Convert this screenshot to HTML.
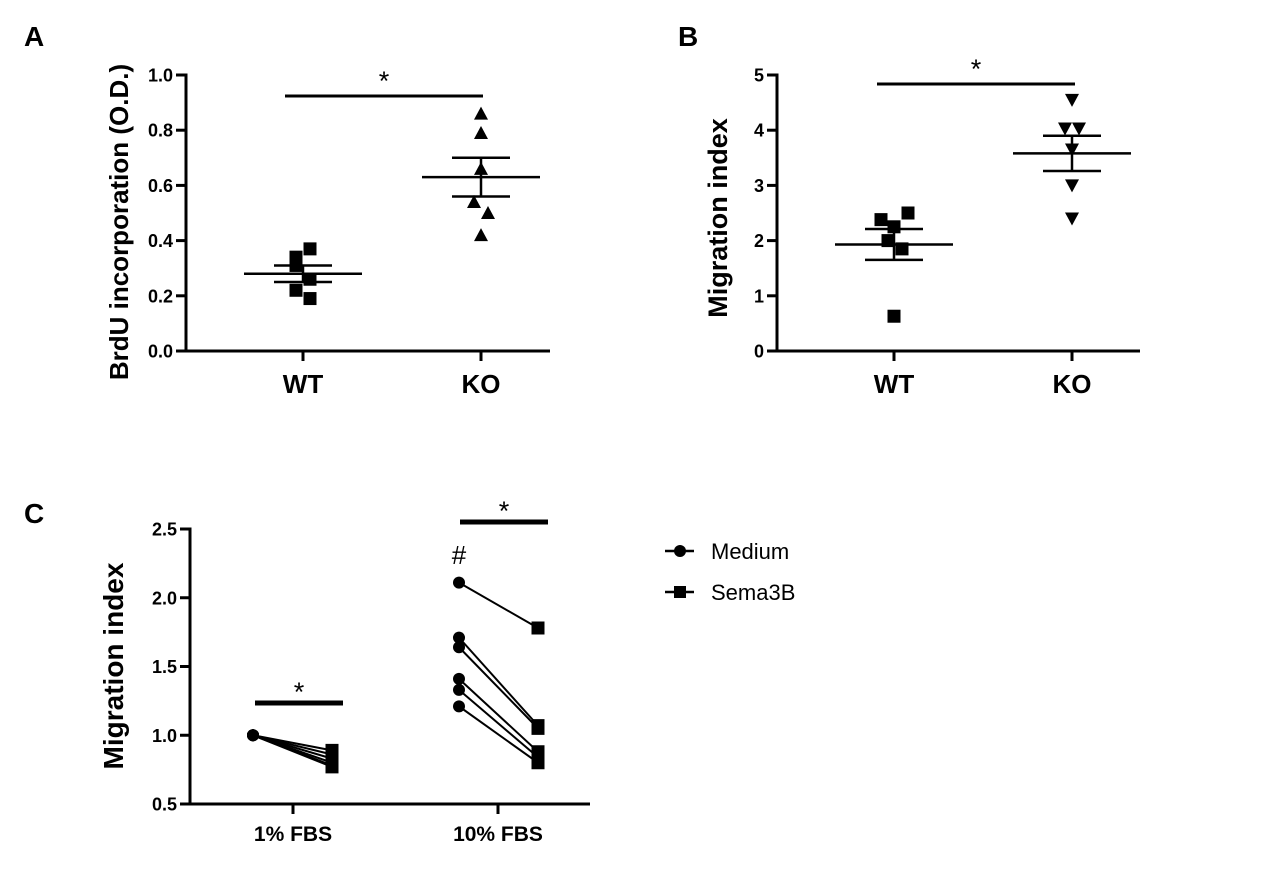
<!DOCTYPE html>
<html><head><meta charset="utf-8"><style>
html,body{margin:0;padding:0;background:#fff;}
svg{display:block;font-family:"Liberation Sans",Arial,sans-serif;}
</style></head><body>
<svg id="fig" width="1280" height="874" viewBox="0 0 1280 874" xmlns="http://www.w3.org/2000/svg"></svg>
<script>
// ---- Panel A data ----
const aCategories = ["WT","KO"];
const aWT = [0.37,0.34,0.31,0.26,0.22,0.19];
const aKO = [0.86,0.79,0.66,0.54,0.50,0.42];
const aMean = [0.28,0.63];
const aSem = [0.03,0.07];
const aTicks = ["0.0","0.2","0.4","0.6","0.8","1.0"];
// ---- Panel B data ----
const bCategories = ["WT","KO"];
const bWT = [2.50,2.38,2.25,2.00,1.85,0.63];
const bKO = [4.55,4.03,4.03,3.65,3.00,2.40];
const bMean = [1.93,3.58];
const bSem = [0.28,0.32];
const bTicks = ["0","1","2","3","4","5"];
// ---- Panel C data ----
const cCategories = ["1% FBS","10% FBS"];
const cMedium1 = [1.0,1.0,1.0,1.0,1.0,1.0];
const cSema1 = [0.89,0.86,0.83,0.80,0.78,0.77];
const cMedium10 = [2.11,1.71,1.64,1.41,1.33,1.21];
const cSema10 = [1.78,1.07,1.05,0.88,0.84,0.80];
const cTicks = ["0.5","1.0","1.5","2.0","2.5"];

const NS="http://www.w3.org/2000/svg";
const svg=document.getElementById('fig');
function mk(tag,attrs,parent){const e=document.createElementNS(NS,tag);for(const k in attrs)e.setAttribute(k,attrs[k]);(parent||svg).appendChild(e);return e;}
function txt(s,attrs,parent){const e=mk('text',attrs,parent);e.textContent=s;return e;}

[["A",24,46],["B",678,46],["C",24,523]].forEach(p=>{
  const t=txt(p[0],{x:p[1],y:p[2],'font-size':28,'font-weight':'bold'});
  
  
});

function scatterPanel(o){
  const g=mk('g',{});
  
  
  const y=v=>o.y0+(v-o.min)/(o.max-o.min)*(o.y1-o.y0);
  const ya=mk('line',{x1:o.ax,y1:o.y1-1.5,x2:o.ax,y2:o.y0+1.5,stroke:'#000','stroke-width':3},g);
  
  const xa=mk('line',{x1:o.ax-1.5,y1:o.y0,x2:o.xEnd,y2:o.y0,stroke:'#000','stroke-width':3},g);
  
  o.ticks.forEach(t=>{
    const v=parseFloat(t),yy=y(v);
    mk('line',{x1:o.ax-10,y1:yy,x2:o.ax,y2:yy,stroke:'#000','stroke-width':3},g);
    const tl=txt(t,{x:o.ax-13,y:yy+6.5,'font-size':18,'font-weight':'bold','text-anchor':'end'},g);
    
  });
  o.cats.forEach((c,i)=>{
    const cx=o.cx[i];
    mk('line',{x1:cx,y1:o.y0,x2:cx,y2:o.y0+10,stroke:'#000','stroke-width':3},g);
    const cl=txt(c,{x:cx,y:o.catY,'font-size':o.catSize,'font-weight':'bold','text-anchor':'middle'},g);
    
  });
  const at=txt(o.title,{x:0,y:0,'font-size':o.titleSize,'font-weight':'bold','text-anchor':'middle',transform:`translate(${o.titleX},${o.titleY}) rotate(-90)`},g);
  
  return {g,y};
}

function square(g,x,yy,s){const r=mk('rect',{x:x-s/2,y:yy-s/2,width:s,height:s,fill:'#000'},g);}
function tri(g,x,yy,down){const s=14;const p=down?`${x-s/2},${yy-s/2+1} ${x+s/2},${yy-s/2+1} ${x},${yy+s/2}`:`${x-s/2},${yy+s/2-1} ${x+s/2},${yy+s/2-1} ${x},${yy-s/2}`;const e=mk('polygon',{points:p,fill:'#000'},g);}

function meanSem(g,y,cx,mean,sem){
  const m=mk('line',{x1:cx-59,y1:y(mean),x2:cx+59,y2:y(mean),stroke:'#000','stroke-width':2.5},g);
  
  [mean+sem,mean-sem].forEach(v=>{const c=mk('line',{x1:cx-29,y1:y(v),x2:cx+29,y2:y(v),stroke:'#000','stroke-width':2.5},g);});
  mk('line',{x1:cx,y1:y(mean+sem),x2:cx,y2:y(mean-sem),stroke:'#000','stroke-width':2.5},g);
}
function sig(g,x1,x2,yy,sw,starY){
  const l=mk('line',{x1,y1:yy,x2,y2:yy,stroke:'#000','stroke-width':sw},g);
  
  const s=txt('*',{x:(x1+x2)/2,y:starY,'font-size':27,'text-anchor':'middle'},g);
  
}

// Panel A
{
  const o={name:'panel-a-brdu',ax:186,y0:351,y1:75,min:0,max:1,xEnd:550,cx:[303,481],cats:aCategories,ticks:aTicks,catSize:26,catY:393,title:'BrdU incorporation (O.D.)',titleSize:26,titleX:128,titleY:222};
  const {g,y}=scatterPanel(o);
  const wtDx=[7,-7,-7,7,-7,7];
  aWT.forEach((v,i)=>square(g,303+wtDx[i],y(v),13));
  const koDx=[0,0,0,-7,7,0];
  aKO.forEach((v,i)=>tri(g,481+koDx[i],y(v),false));
  meanSem(g,y,303,aMean[0],aSem[0]);
  meanSem(g,y,481,aMean[1],aSem[1]);
  sig(g,285,483,96,3,90);
}
// Panel B
{
  const o={name:'panel-b-migration',ax:777,y0:351,y1:75,min:0,max:5,xEnd:1140,cx:[894,1072],cats:bCategories,ticks:bTicks,catSize:26,catY:393,title:'Migration index',titleSize:27,titleX:727,titleY:218};
  const {g,y}=scatterPanel(o);
  const wtDx=[14,-13,0,-6,8,0];
  bWT.forEach((v,i)=>square(g,894+wtDx[i],y(v),13));
  const koDx=[0,-7,7,0,0,0];
  bKO.forEach((v,i)=>tri(g,1072+koDx[i],y(v),true));
  meanSem(g,y,894,bMean[0],bSem[0]);
  meanSem(g,y,1072,bMean[1],bSem[1]);
  sig(g,877,1075,84,3,78);
}
// Panel C
{
  const o={name:'panel-c-paired',ax:190,y0:804,y1:529,min:0.5,max:2.5,xEnd:590,cx:[293,498],cats:cCategories,ticks:cTicks,catSize:21,catY:841,title:'Migration index',titleSize:28,titleX:123,titleY:666};
  const {g,y}=scatterPanel(o);
  const pairs=[[cMedium1,cSema1,253,332],[cMedium10,cSema10,459,538]];
  pairs.forEach(p=>{
    p[0].forEach((v,i)=>{
      const l=mk('line',{x1:p[2],y1:y(v),x2:p[3],y2:y(p[1][i]),stroke:'#000','stroke-width':2},g);
      
    });
    p[0].forEach(v=>{const c=mk('circle',{cx:p[2],cy:y(v),r:6,fill:'#000'},g);});
    p[1].forEach(v=>square(g,p[3],y(v),13));
  });
  sig(g,255,343,703,5,701);
  sig(g,460,548,522,5,520);
  const h=txt('#',{x:459,y:564,'font-size':26,'text-anchor':'middle'},g);
  
}
// Legend
{
  const g=mk('g',{});
  
  
  const e1=mk('g',{},g);
  
  
  mk('line',{x1:665,y1:551,x2:694,y2:551,stroke:'#000','stroke-width':2.5},e1);
  mk('circle',{cx:680,cy:551,r:6,fill:'#000'},e1);
  txt('Medium',{x:711,y:559,'font-size':22},e1);
  const e2=mk('g',{},g);
  
  
  mk('line',{x1:665,y1:592,x2:694,y2:592,stroke:'#000','stroke-width':2.5},e2);
  mk('rect',{x:674,y:586,width:12,height:12,fill:'#000'},e2);
  txt('Sema3B',{x:711,y:600,'font-size':22},e2);
}
</script>
</body></html>
